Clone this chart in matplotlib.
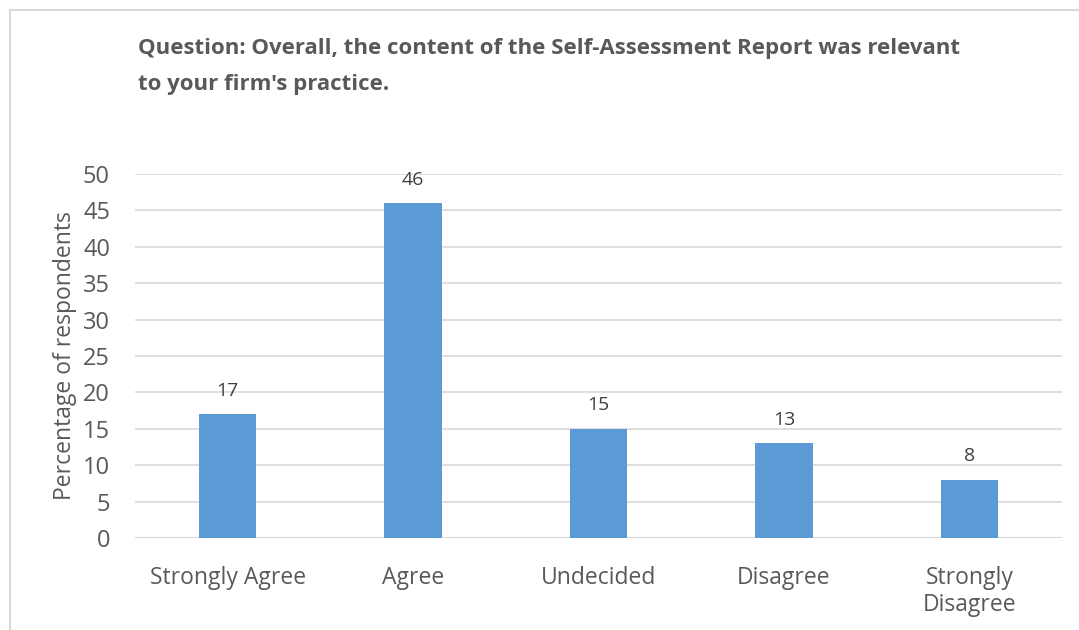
import matplotlib.pyplot as plt

categories = ["Strongly Agree", "Agree", "Undecided", "Disagree", "Strongly\nDisagree"]
values = [17, 46, 15, 13, 8]
yticks = [0, 5, 10, 15, 20, 25, 30, 35, 40, 45, 50]

title = ("Question: Overall, the content of the Self-Assessment Report was relevant\n"
         "to your firm's practice.")

plt.rcParams['font.family'] = ['Open Sans', 'DejaVu Sans']
text_col = "#595959"
grid_col = "#d9d9d9"
bar_col = "#5b9bd5"

fig = plt.figure(figsize=(10.79, 6.3), dpi=100)
W, H = 1079, 630
ax = fig.add_axes([135 / W, 1 - 538 / H, 927 / W, 364 / H])

x = range(len(categories))
ax.bar(x, values, width=0.31, color=bar_col, zorder=3)
for i, v in enumerate(values):
    ax.text(i, v + 2.0, str(v), ha="center", va="bottom", fontsize=14, color="#404040")

ax.set_xlim(-0.5, len(categories) - 0.5)
ax.set_ylim(0, 50)
ax.set_yticks(yticks)
ax.set_yticklabels([str(t) for t in yticks], fontsize=17, color=text_col)
ax.set_xticks(list(x))
ax.set_xticklabels(categories, fontsize=16.5, color=text_col, linespacing=1.2)
ax.tick_params(length=0)
ax.tick_params(axis="x", pad=20)
ax.tick_params(axis="y", pad=18)
ax.yaxis.grid(True, color=grid_col, linewidth=1.2, zorder=0)
for s in ax.spines.values():
    s.set_visible(False)
ax.axhline(0, color=grid_col, linewidth=1.5, zorder=2)

ax.set_ylabel("Percentage of respondents", fontsize=16.5, color=text_col, labelpad=4)

fig.text(138 / W, 1 - 38 / H, title, ha="left", va="top", fontsize=16,
         fontweight="bold", color=text_col, linespacing=1.95)

# chart area border
fig.add_artist(plt.Line2D([10 / W, 10 / W], [0, 1 - 10 / H], transform=fig.transFigure,
                          color=grid_col, linewidth=1.5))
fig.add_artist(plt.Line2D([10 / W, 1], [1 - 10 / H, 1 - 10 / H], transform=fig.transFigure,
                          color=grid_col, linewidth=1.5))

fig.savefig("out.png", dpi=100)
